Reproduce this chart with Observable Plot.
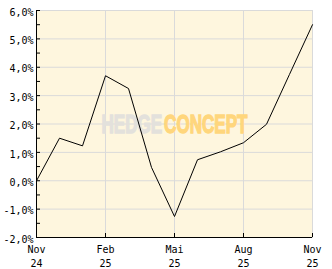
<!DOCTYPE html>
<html>
<head>
<meta charset="utf-8">
<script src="https://cdn.jsdelivr.net/npm/d3@7"></script>
<script src="https://cdn.jsdelivr.net/npm/@observablehq/plot@0.6"></script>
<style>
  html, body { margin: 0; padding: 0; background: white; }
</style>
</head>
<body>
<div id="chart"></div>
<script>
// Monthly index 0 = Nov 24 ... 12 = Nov 25
const monthIndex = [0, 1, 2, 3, 4, 5, 6, 7, 8, 9, 10, 11, 12];
const performance = [0.0, 1.5, 1.23, 3.7, 3.25, 0.47, -1.26, 0.74, 1.02, 1.34, 1.99, 3.75, 5.5];

const xTickPositions = [0, 3, 6, 9, 12];
const xTickLabels = ["Nov\n24", "Feb\n25", "Mai\n25", "Aug\n25", "Nov\n25"];
const yTicks = [-2, -1, 0, 1, 2, 3, 4, 5, 6];
const yMinorTicks = [-1.5, -0.5, 0.5, 1.5, 2.5, 3.5, 4.5, 5.5];
const watermarkWords = ["HEDGE", "CONCEPT"];

const data = monthIndex.map((m, i) => ({m, v: performance[i]}));
const fmtY = d => d.toFixed(1).replace(".", ",") + "%";
const fmtX = d => xTickLabels[xTickPositions.indexOf(d)];

const grid = "#dadada";
const chart = Plot.plot({
  width: 332,
  height: 269,
  marginLeft: 36,
  marginRight: 20,
  marginTop: 10,
  marginBottom: 32,
  style: {background: "white", fontFamily: "DejaVu Sans Mono", fontSize: "10px", color: "black"},
  x: {domain: [0, 12], axis: null},
  y: {domain: [-2, 6], axis: null},
  marks: [
    Plot.frame({fill: "#fef6de", stroke: grid}),
    Plot.gridY(yTicks, {stroke: grid, strokeOpacity: 1}),
    Plot.gridX(xTickPositions, {stroke: grid, strokeOpacity: 1}),
    Plot.text([watermarkWords.join(" ")], {text: d => d, frameAnchor: "middle", textAnchor: "middle", dy: 1,
      fill: "#e3e1dc", fontSize: 25, fontWeight: "bold", fontFamily: "Liberation Sans", className: "wm"}),
    Plot.ruleX([0], {stroke: "black"}),
    Plot.ruleY([-2], {stroke: "black"}),
    Plot.axisY(yTicks, {tickSize: 0, tickPadding: 3, tickFormat: fmtY, dy: 2, label: null}),
    Plot.axisY(yTicks.concat(yMinorTicks), {tickSize: -4, tickFormat: () => "", label: null, stroke: "black"}),
    Plot.axisX(xTickPositions, {tickSize: 0, tickPadding: 6, tickFormat: fmtX, lineHeight: 1.4, label: null}),
    Plot.axisX(xTickPositions, {tickSize: -4, tickFormat: () => "", label: null, stroke: "black"}),
    Plot.line(data, {x: "m", y: "v", stroke: "black", strokeWidth: 1})
  ]
});
document.getElementById("chart").appendChild(chart);
// split watermark into two coloured words and compress its width
const t = chart.querySelector(".wm text");
if (t) {
  t.textContent = "";
  t.setAttribute("style", "font-family: 'Liberation Sans', Arial, sans-serif; font-size: 26px; font-weight: bold;");
  const ns = "http://www.w3.org/2000/svg";
  const a = document.createElementNS(ns, "tspan");
  a.textContent = watermarkWords[0];
  a.setAttribute("fill", "#e3e1dc");
  a.setAttribute("stroke", "#e3e1dc");
  a.setAttribute("stroke-width", "1.4");
  const b = document.createElementNS(ns, "tspan");
  b.textContent = watermarkWords[1];
  b.setAttribute("fill", "#ffd67c");
  b.setAttribute("stroke", "#ffd67c");
  b.setAttribute("stroke-width", "1.4");
  b.setAttribute("dx", "3");
  t.appendChild(a);
  t.appendChild(b);
  t.setAttribute("textLength", 146);
  t.setAttribute("lengthAdjust", "spacingAndGlyphs");
}
</script>
</body>
</html>
